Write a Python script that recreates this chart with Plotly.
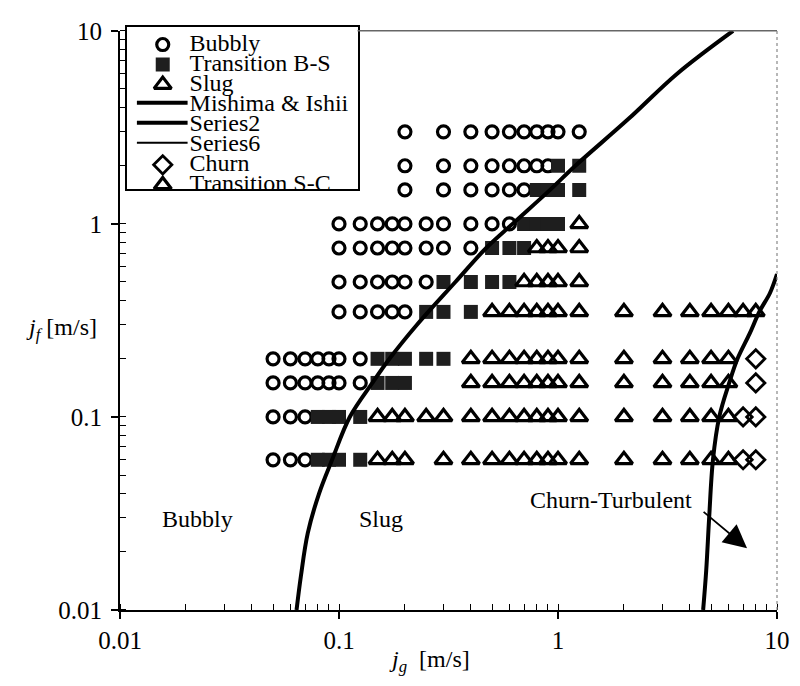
import math
import plotly.graph_objects as go

# ---------------------------------------------------------------------------
# Observed flow regimes: liquid superficial velocity jf -> gas velocities jg
# ---------------------------------------------------------------------------
bubbly = {
    3.0: [0.2, 0.3, 0.4, 0.5, 0.6, 0.7, 0.8, 0.9, 1.0, 1.25],
    2.0: [0.2, 0.3, 0.4, 0.5, 0.6, 0.7, 0.8, 0.9],
    1.5: [0.2, 0.3, 0.4, 0.5, 0.6, 0.7],
    1.0: [0.1, 0.125, 0.15, 0.175, 0.2, 0.25, 0.3, 0.4, 0.5, 0.6],
    0.75: [0.1, 0.125, 0.15, 0.175, 0.2, 0.25, 0.3, 0.4],
    0.5: [0.1, 0.125, 0.15, 0.175, 0.2, 0.25],
    0.35: [0.1, 0.125, 0.15, 0.175, 0.2],
    0.2: [0.05, 0.06, 0.07, 0.08, 0.09, 0.1, 0.125],
    0.15: [0.05, 0.06, 0.07, 0.08, 0.09, 0.1, 0.125],
    0.1: [0.05, 0.06, 0.07],
    0.06: [0.05, 0.06, 0.07],
}

transition_bs = {
    2.0: [1.0, 1.25],
    1.5: [0.8, 0.9, 1.0, 1.25],
    1.0: [0.7, 0.8, 0.9, 1.0],
    0.75: [0.5, 0.6, 0.7],
    0.5: [0.3, 0.4, 0.5, 0.6],
    0.35: [0.25, 0.3, 0.4],
    0.2: [0.15, 0.175, 0.2, 0.25, 0.3],
    0.15: [0.15, 0.175, 0.2],
    0.1: [0.08, 0.09, 0.1, 0.125],
    0.06: [0.08, 0.09, 0.1, 0.125],
}

slug = {
    1.0: [1.25],
    0.75: [0.8, 0.9, 1.0, 1.25],
    0.5: [0.7, 0.8, 0.9, 1.0, 1.25],
    0.35: [0.5, 0.6, 0.7, 0.8, 0.9, 1.0, 1.25, 2, 3, 4, 5, 6],
    0.2: [0.4, 0.5, 0.6, 0.7, 0.8, 0.9, 1.0, 1.25, 2, 3, 4, 5, 6],
    0.15: [0.4, 0.5, 0.6, 0.7, 0.8, 0.9, 1.0, 1.25, 2, 3, 4, 5, 6],
    0.1: [0.15, 0.175, 0.2, 0.25, 0.3, 0.4, 0.5, 0.6, 0.7, 0.8, 0.9, 1.0,
          1.25, 2, 3, 4, 5, 6],
    0.06: [0.15, 0.175, 0.2, 0.3, 0.4, 0.5, 0.6, 0.7, 0.8, 0.9, 1.0,
           1.25, 2, 3, 4, 5, 6],
}

churn = {
    0.2: [8],
    0.15: [8],
    0.1: [7, 8],
    0.06: [7, 8],
}

transition_sc = {
    0.35: [7, 8],
}

# Mishima & Ishii transition boundaries
mishima_jg = [0.064, 0.067, 0.072, 0.081, 0.093, 0.112, 0.142, 0.17, 0.227,
              0.34, 0.47, 0.62, 0.92, 1.2, 2.1, 3.5, 6.3]
mishima_jf = [0.01, 0.015, 0.025, 0.04, 0.06, 0.1, 0.15, 0.2, 0.3,
              0.5, 0.75, 1.0, 1.5, 2.0, 3.5, 6.0, 10.0]

series2_jg = [4.6, 4.75, 4.9, 5.1, 5.45, 6.05, 6.6, 7.5, 8.3, 9.3, 10.0]
series2_jf = [0.01, 0.016, 0.03, 0.06, 0.1, 0.15, 0.2, 0.27, 0.35, 0.44, 0.55]

# Axis ticks
tick_vals = [0.01, 0.1, 1, 10]
tick_text = ["0.01", "0.1", "1", "10"]

legend_names = ["Bubbly", "Transition B-S", "Slug", "Mishima & Ishii",
                "Series2", "Series6", "Churn", "Transition S-C"]

FONT = "Liberation Serif"

# ---------------------------------------------------------------------------
# Styles
# ---------------------------------------------------------------------------
marker_styles = {
    "Bubbly": dict(symbol="circle-open", size=12, color="black",
                   line=dict(width=3.2, color="black")),
    "Transition B-S": dict(symbol="square", size=14, color="#1e1e1e",
                           line=dict(width=0)),
    "Slug": dict(symbol="triangle-up-open", size=15, color="black",
                 line=dict(width=3.2, color="black")),
    "Churn": dict(symbol="diamond-open", size=14, color="black",
                  line=dict(width=2.8, color="black")),
    "Transition S-C": dict(symbol="triangle-up-open", size=15, color="black",
                           line=dict(width=3.2, color="black")),
}
line_styles = {
    "Mishima & Ishii": dict(color="black", width=4),
    "Series2": dict(color="black", width=4),
    "Series6": dict(color="black", width=2),
}


def flatten(table):
    xs, ys = [], []
    for jf, jgs in table.items():
        for jg in jgs:
            xs.append(jg)
            ys.append(jf)
    return xs, ys


fig = go.Figure()

regimes = [("Bubbly", bubbly), ("Transition B-S", transition_bs),
           ("Slug", slug), ("Churn", churn), ("Transition S-C", transition_sc)]
for name, table in regimes:
    xs, ys = flatten(table)
    fig.add_trace(go.Scatter(
        x=xs, y=ys, mode="markers", name=name, showlegend=False,
        marker=marker_styles[name], xaxis="x", yaxis="y"))

fig.add_trace(go.Scatter(
    x=mishima_jg, y=mishima_jf, mode="lines", name="Mishima & Ishii",
    showlegend=False, line=dict(**line_styles["Mishima & Ishii"], shape="spline"),
    xaxis="x", yaxis="y"))
fig.add_trace(go.Scatter(
    x=series2_jg, y=series2_jf, mode="lines", name="Series2",
    showlegend=False, line=dict(**line_styles["Series2"], shape="spline"),
    xaxis="x", yaxis="y"))

# ---------------------------------------------------------------------------
# Key box: its own small subplot (pixel-like coordinates) so entries clip
# at the frame like the original spreadsheet chart
# ---------------------------------------------------------------------------
KEY_X0, KEY_X1, KEY_Y0, KEY_Y1 = 127, 359, 14, 180
ROW0, ROW_STEP = 32, 20.5
SWATCH_X, LINE_X0, LINE_X1, TEXT_X = 163, 137, 188, 190

for i, name in enumerate(legend_names):
    yy = ROW0 + ROW_STEP * i
    if name in marker_styles:
        fig.add_trace(go.Scatter(
            x=[SWATCH_X], y=[yy], mode="markers", showlegend=False,
            marker=marker_styles[name], xaxis="x2", yaxis="y2",
            cliponaxis=True, hoverinfo="skip"))
    else:
        fig.add_trace(go.Scatter(
            x=[LINE_X0, LINE_X1], y=[yy - 2, yy - 2], mode="lines",
            showlegend=False, line=line_styles[name], xaxis="x2", yaxis="y2",
            hoverinfo="skip"))

fig.add_trace(go.Scatter(
    x=[TEXT_X] * len(legend_names),
    y=[ROW0 + ROW_STEP * i for i in range(len(legend_names))],
    text=legend_names, mode="text", textposition="middle right",
    textfont=dict(family=FONT, size=24, color="black"),
    showlegend=False, cliponaxis=True, xaxis="x2", yaxis="y2",
    hoverinfo="skip"))

# ---------------------------------------------------------------------------
# Layout
# ---------------------------------------------------------------------------
W, H = 800, 686
ML, MR, MT, MB = 120, 19, 10, 76
PW, PH = W - ML - MR, H - MT - MB
Y_TOP = 18  # pixel row of jf = 10


def px_x(p):
    return (p - ML) / PW


def px_y(p):
    return (H - MB - p) / PH


axis_common = dict(
    type="log", range=[-2, 1], showline=True, linecolor="black", linewidth=2,
    ticks="outside", ticklen=7, tickwidth=1.5, tickcolor="black",
    tickmode="array", tickvals=tick_vals, ticktext=tick_text,
    tickfont=dict(family=FONT, size=25, color="black"),
    showgrid=False, zeroline=False,
    minor=dict(dtick="D1", ticks="inside", ticklen=6, tickwidth=1,
               tickcolor="black", showgrid=False),
)

fig.update_layout(
    width=W, height=H,
    margin=dict(l=ML, r=MR, t=MT, b=MB),
    paper_bgcolor="white", plot_bgcolor="white",
    showlegend=False,
    font=dict(family=FONT, size=24, color="black"),
    xaxis=dict(axis_common, domain=[0, 1], anchor="y", ticklabelstandoff=0),
    yaxis=dict(axis_common, domain=[0, px_y(Y_TOP)], anchor="x",
               ticklabelstandoff=4),
    xaxis2=dict(domain=[px_x(KEY_X0), px_x(KEY_X1)], range=[KEY_X0, KEY_X1],
                anchor="y2", showline=True, mirror=True, linecolor="black",
                linewidth=1.5, showticklabels=False, ticks="",
                showgrid=False, zeroline=False, fixedrange=True),
    yaxis2=dict(domain=[px_y(KEY_Y1), px_y(KEY_Y0)], range=[KEY_Y1, KEY_Y0],
                anchor="x2", showline=True, mirror=True, linecolor="black",
                linewidth=1.5, showticklabels=False, ticks="",
                showgrid=False, zeroline=False, fixedrange=True),
    shapes=[
        dict(type="line", xref="paper", yref="paper",
             x0=px_x(KEY_X1), x1=1, y0=px_y(Y_TOP), y1=px_y(Y_TOP),
             line=dict(color="#666666", width=1.5)),
        dict(type="line", xref="paper", yref="paper",
             x0=1, x1=1, y0=0, y1=px_y(Y_TOP),
             line=dict(color="#888888", width=1.2, dash="dot")),
    ],
)

annotations = [
    # axis titles
    dict(text="<i>j</i><sub><i>g</i></sub>  [m/s]", xref="paper", yref="paper",
         x=px_x(431), y=px_y(662), xanchor="center", yanchor="middle",
         showarrow=False, font=dict(family=FONT, size=24)),
    dict(text="<i>j</i><sub><i>f</i></sub> [m/s]", xref="paper", yref="paper",
         x=px_x(61), y=px_y(323), xanchor="center", yanchor="middle",
         showarrow=False, font=dict(family=FONT, size=24)),
    # regime labels
    dict(text="Bubbly", xref="x", yref="y", x=math.log10(0.0225),
         y=math.log10(0.0296), showarrow=False, font=dict(family=FONT, size=24)),
    dict(text="Slug", xref="x", yref="y", x=math.log10(0.156),
         y=math.log10(0.0296), showarrow=False, font=dict(family=FONT, size=24)),
    dict(text="Churn-Turbulent", xref="x", yref="y", x=math.log10(1.75),
         y=math.log10(0.0373), showarrow=False, font=dict(family=FONT, size=24)),
    # pointer into the churn-turbulent region
    dict(text="", xref="x", yref="y", axref="x", ayref="y",
         x=math.log10(7.3), y=math.log10(0.0209),
         ax=math.log10(4.55), ay=math.log10(0.0327),
         showarrow=True, arrowhead=2, arrowsize=2.6, arrowwidth=1.8,
         arrowcolor="black"),
]
fig.update_layout(annotations=annotations)

fig.write_html("out.html")
